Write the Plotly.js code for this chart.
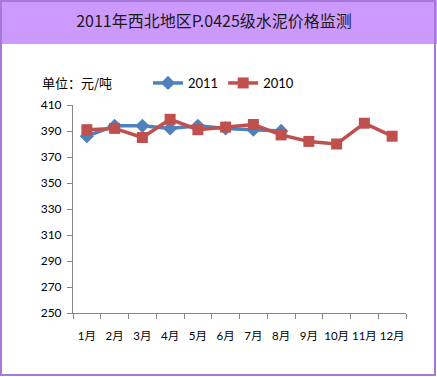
<!DOCTYPE html>
<html><head><meta charset="utf-8">
<script src="https://cdn.plot.ly/plotly-3.0.1.min.js"></script>
<style>html,body{margin:0;padding:0;background:#fff;}#chart{width:437px;height:377px;}</style>
</head><body><div id="chart"></div>
<script>
const months = ['1月','2月','3月','4月','5月','6月','7月','8月','9月','10月','11月','12月'];
const series2011 = [386, 394, 394, 392, 394, 392, 391, 390, null, null, null, null];
const series2010 = [391, 392, 385, 399, 391, 393, 395, 387, 382, 380, 396, 386];
const yTicks = [250, 270, 290, 310, 330, 350, 370, 390, 410];

const W = 437, H = 377, L = 73, R = 31, T = 105, B = 64;
const pw = W - L - R, ph = H - T - B;
const px = p => (p - L) / pw;
const py = p => (H - B - p) / ph;

const font = 'Lato, "Noto Sans CJK SC", sans-serif';
const traces = [
  {x: months, y: series2011, name: '2011', type: 'scatter', mode: 'lines+markers',
   line: {color: '#4F81BD', width: 3.5}, marker: {symbol: 'diamond', size: 11, color: '#4F81BD'}},
  {x: months, y: series2010, name: '2010', type: 'scatter', mode: 'lines+markers',
   line: {color: '#C0504D', width: 3.5}, marker: {symbol: 'square', size: 11, color: '#C0504D'}}
];
const layout = {
  width: W, height: H,
  margin: {l: L, r: R, t: T, b: B},
  paper_bgcolor: '#fff', plot_bgcolor: '#fff',
  font: {family: font, size: 12, color: '#000'},
  title: {text: '2011年西北地区P.0425级水泥价格监测', x: 214/W, xref: 'container', xanchor: 'center',
          y: 1 - 21/H, yref: 'container', yanchor: 'middle',
          font: {family: '"Noto Sans CJK SC", sans-serif', size: 16, color: '#1a1a1a'}},
  xaxis: {type: 'category', range: [-0.5, 11.5], tickson: 'boundaries', ticks: 'outside', ticklen: 5,
          tickcolor: '#868686', showline: true, linecolor: '#868686', linewidth: 1, showgrid: false,
          zeroline: false, tickangle: 0, ticklabelstandoff: 12, tickfont: {size: 11.5, family: font}, fixedrange: true},
  yaxis: {range: [250, 410], tickvals: yTicks, ticks: 'outside', ticklen: 5, tickcolor: '#868686',
          showline: true, linecolor: '#868686', linewidth: 1, showgrid: false, zeroline: false,
          ticklabelstandoff: 3, tickfont: {size: 12, family: font}, fixedrange: true},
  showlegend: true,
  legend: {orientation: 'h', x: px(148), xanchor: 'left', y: py(83), yanchor: 'middle',
           font: {size: 13, family: font}, bgcolor: 'rgba(0,0,0,0)', itemwidth: 30},
  annotations: [{text: '单位：元/吨', xref: 'paper', yref: 'paper', x: px(40), y: py(83),
                 xanchor: 'left', yanchor: 'middle', showarrow: false,
                 font: {size: 13, family: '"Noto Sans CJK SC", sans-serif', color: '#000'}}],
  shapes: [
    {type: 'rect', xref: 'paper', yref: 'paper', x0: px(0), x1: px(437), y0: py(44), y1: py(0),
     fillcolor: '#CC99FF', line: {width: 0}, layer: 'below'},
    {type: 'rect', xref: 'paper', yref: 'paper', x0: px(1), x1: px(435), y0: py(375), y1: py(1),
     fillcolor: 'rgba(0,0,0,0)', line: {width: 2, color: '#A678D8'}, layer: 'above'}
  ]
};
Plotly.newPlot('chart', traces, layout, {displayModeBar: false, staticPlot: true});
</script></body></html>
